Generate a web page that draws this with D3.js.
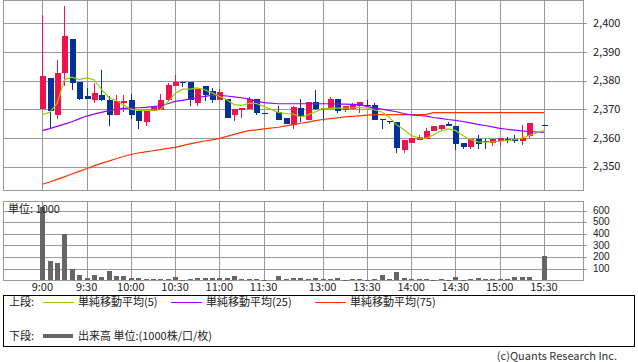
<!DOCTYPE html>
<html>
<head>
<meta charset="utf-8">
<script src="https://cdn.jsdelivr.net/npm/d3@7/dist/d3.min.js"></script>
<style>
body{margin:0;background:#fff}
svg{display:block;font-family:"Noto Sans CJK JP","Noto Sans",sans-serif}
</style>
</head>
<body>
<div id="chart"></div>
<script>
// time axis (5 min bars, index based, gaps at lunch and closing auction)
const timeLabels = ["9:00","9:30","10:00","10:30","11:00","11:30","13:00","13:30","14:00","14:30","15:00","15:30"];
const timeIdx = [0,6,12,18,24,30,38,44,50,56,62,68];

// ohlc per bar index 0..68 (null = no trade)
const opens  = [2370.1,2381.0,2367.9,2382.5,2394.5,2379.6,2374.7,2373.3,2375.1,2373.3,2367.9,2372.2,2373.3,2369.3,2365.4,2369.5,2369.8,2373.1,2378.2,2379.6,2379.6,2372.2,2378.2,2376.2,2373.1,2373.5,2367.9,2369.8,2370.2,2373.7,2368.8,null,
  2368.9,2367.0,2364.5,2370.4,2366.4,2372.4,2370.4,2370.4,2373.7,2369.8,2370.2,2371.0,2371.6,2371.6,2366.6,2365.8,2365.7,2355.9,2358.1,2359.4,2359.7,2362.3,2363.2,2364.9,2364.3,2358.3,2356.9,2359.6,2358.8,2358.3,2358.8,2359.7,2359.7,2358.8,2360.8,null,2364.6];
const highs  = [2402.9,2381.0,2387.2,2406.1,2394.5,2379.6,2377.5,2379.2,2383.8,2374.5,2374.9,2375.0,2375.4,2369.3,2369.3,2371.0,2375.4,2379.3,2382.0,2379.6,2379.6,2377.0,2378.2,2377.4,2377.0,2373.5,2370.1,2370.4,2374.1,2373.7,2368.8,null,
  2371.2,2367.0,2371.2,2373.7,2372.4,2376.6,2370.4,2374.1,2373.7,2371.0,2372.2,2372.4,2373.3,2372.0,2366.6,2365.8,2365.7,2359.1,2359.9,2361.0,2363.5,2364.3,2364.6,2365.4,2364.3,2358.3,2359.7,2361.0,2359.6,2359.7,2360.0,2360.3,2361.0,2364.6,2365.3,null,2364.6];
const lows   = [2370.1,2363.2,2366.7,2378.2,2376.8,2373.3,2373.7,2372.0,2373.0,2364.0,2367.9,2369.0,2366.7,2363.2,2364.3,2369.5,2369.8,2373.0,2378.2,2377.7,2371.2,2371.2,2373.0,2372.0,2373.1,2366.8,2365.8,2366.8,2370.2,2367.9,2368.6,null,
  2366.4,2365.0,2363.2,2365.4,2366.4,2369.8,2366.0,2370.4,2368.7,2369.0,2370.2,2368.7,2371.2,2366.4,2363.2,2365.0,2354.8,2354.8,2358.1,2359.4,2359.7,2362.3,2362.3,2364.0,2355.9,2356.2,2356.2,2356.2,2356.2,2357.3,2357.3,2358.3,2358.3,2357.4,2360.0,null,2364.6];
const closes = [2381.6,2369.3,2382.7,2395.6,2379.3,2373.7,2373.7,2375.8,2373.3,2367.9,2372.7,2372.7,2368.0,2365.8,2369.3,2370.6,2373.3,2378.5,2379.6,2379.3,2373.3,2377.0,2374.8,2373.1,2375.9,2366.8,2370.1,2370.4,2373.7,2368.7,2368.6,null,
  2366.4,2365.0,2370.6,2367.3,2372.4,2370.2,2370.1,2373.7,2369.3,2371.0,2371.6,2372.4,2371.2,2366.4,2366.4,2365.6,2356.3,2359.1,2359.9,2360.2,2362.5,2364.3,2364.6,2364.0,2358.0,2356.9,2359.7,2358.0,2358.5,2359.7,2360.0,2359.5,2358.8,2360.0,2365.3,null,2364.6];

// moving averages
const ma5  = [2368.1,2368.9,2372.0,2380.3,2381.2,2380.3,2380.9,2380.3,2377.0,2374.0,2373.1,2371.5,2370.0,2369.6,2369.6,2369.6,2369.8,2372.5,2375.5,2377.0,2377.0,2377.4,2376.8,2375.7,2374.5,2373.3,2371.6,2371.3,2372.0,2372.0,2371.0,null,
  2368.9,2368.5,2368.3,2367.3,2368.0,2369.0,2370.2,2370.3,2370.4,2370.4,2370.5,2370.6,2370.4,2369.8,2369.0,2367.3,2364.6,2362.9,2360.8,2360.0,2359.8,2361.0,2362.4,2363.1,2362.6,2360.8,2359.4,2358.6,2358.5,2358.6,2358.8,2359.1,2359.4,2359.9,2360.8,null,2362.6];
const ma25 = [2362.5,2363.2,2364.0,2364.8,2365.6,2366.6,2367.6,2368.3,2368.9,2369.5,2369.9,2370.3,2370.4,2370.5,2370.6,2370.9,2371.2,2371.9,2372.7,2373.1,2373.5,2374.0,2374.5,2374.8,2374.8,2374.6,2374.3,2374.0,2373.6,2372.8,2372.3,null,
  2371.9,2371.9,2371.9,2371.9,2371.9,2371.9,2371.9,2371.9,2371.8,2371.8,2371.7,2371.6,2371.0,2370.4,2370.0,2369.6,2369.1,2368.5,2368.0,2367.8,2367.6,2367.1,2366.8,2366.4,2366.1,2365.7,2365.2,2364.7,2364.3,2363.8,2363.3,2363.0,2362.7,2362.4,2362.2,null,2361.9];
const ma75 = [2343.8,2344.6,2345.5,2346.4,2347.4,2348.3,2349.2,2350.2,2351.1,2351.9,2352.7,2353.5,2354.2,2354.7,2355.1,2355.5,2355.9,2356.3,2356.7,2357.3,2357.9,2358.4,2358.9,2359.3,2359.8,2360.5,2361.2,2361.9,2362.5,2362.8,2363.1,null,
  2363.7,2364.2,2364.6,2365.1,2365.5,2366.0,2366.4,2366.7,2367.0,2367.3,2367.5,2367.7,2367.9,2368.1,2368.1,2368.1,2368.1,2368.1,2368.1,2368.1,2368.1,2368.8,2368.8,2368.8,2368.8,2368.8,2368.8,2368.8,2368.8,2368.8,2368.8,2368.8,2368.8,2368.8,2368.8,null,2368.8];

// volume (1000 shares)
const volumes = [630,166,149,398,97,46,20,46,29,80,37,37,20,20,11,11,11,11,29,3,11,20,20,20,20,20,37,11,11,11,2,null,
  37,11,20,20,11,20,11,11,20,3,11,11,3,11,46,11,71,20,11,11,11,3,11,3,29,3,11,20,11,11,11,11,29,29,29,null,209];

const priceTicks = [2350,2360,2370,2380,2390,2400];
const volTicks = [100,200,300,400,500,600];

const W = 638, H = 362;
const left = 3, right = 583;
const upColor = "#f0124a", downColor = "#003399", gridColor = "#999";

const x = d3.scaleLinear().domain([-5.33,73.3]).range([left,right]);
const y = d3.scaleLinear().domain([2341.8,2408.1]).range([190,0]);
const yv = d3.scaleLinear().domain([0,682]).range([280.3,201]);

const svg = d3.select("#chart").append("svg").attr("width",W).attr("height",H);
svg.append("rect").attr("width",W).attr("height",H).attr("fill","#fff");

const bars = d3.range(opens.length).filter(i=>opens[i]!==null).map(i=>({
  i, o:opens[i], h:highs[i], l:lows[i], c:closes[i], v:volumes[i]
}));

// ---- upper panel grid
const gp = svg.append("g").attr("shape-rendering","crispEdges");
gp.selectAll(".hg").data(priceTicks).join("line")
  .attr("x1",left).attr("x2",right+4)
  .attr("y1",d=>Math.round(y(d))+0.5).attr("y2",d=>Math.round(y(d))+0.5)
  .attr("stroke",gridColor);
gp.selectAll(".vg").data(timeIdx).join("line")
  .attr("x1",d=>Math.round(x(d))+0.5).attr("x2",d=>Math.round(x(d))+0.5)
  .attr("y1",0).attr("y2",190).attr("stroke",gridColor);
gp.append("rect").attr("x",left+0.5).attr("y",0.5).attr("width",right-left).attr("height",189.5)
  .attr("fill","none").attr("stroke",gridColor);

svg.append("g").selectAll("text").data(priceTicks).join("text")
  .attr("x",593).attr("y",d=>y(d)).attr("dy","0.36em")
  .attr("font-size",11).attr("fill","#222")
  .text(d=>d3.format(",")(d));

// ---- candles
const cg = svg.append("g").attr("shape-rendering","crispEdges");
cg.selectAll(".wick").data(bars).join("line")
  .attr("x1",d=>Math.round(x(d.i))+0.5).attr("x2",d=>Math.round(x(d.i))+0.5)
  .attr("y1",d=>y(d.h)).attr("y2",d=>y(d.l))
  .attr("stroke",d=>d.c>d.o?upColor:downColor);
cg.selectAll(".body").data(bars).join("rect")
  .attr("x",d=>Math.round(x(d.i))-2.5+0.5)
  .attr("y",d=>y(Math.max(d.o,d.c)))
  .attr("width",6)
  .attr("height",d=>Math.max(1,Math.abs(y(d.o)-y(d.c))))
  .attr("fill",d=>d.c>d.o?upColor:downColor);

// ---- moving averages
const maLine = d3.line().x(d=>x(d[0])).y(d=>y(d[1]));
const maDefs = [[ma75,"#ff3300"],[ma25,"#9900ff"],[ma5,"#99cc00"]];
maDefs.forEach(([arr,col])=>{
  const pts = arr.map((v,i)=>[i,v]).filter(d=>d[1]!==null);
  svg.append("path").attr("d",maLine(pts)).attr("fill","none")
    .attr("stroke",col).attr("stroke-width",1.2);
});

// ---- volume panel
const gv = svg.append("g").attr("shape-rendering","crispEdges");
gv.selectAll(".hg").data(volTicks).join("line")
  .attr("x1",left).attr("x2",right+4)
  .attr("y1",d=>Math.round(yv(d))+0.5).attr("y2",d=>Math.round(yv(d))+0.5)
  .attr("stroke",gridColor);
gv.selectAll(".vg").data(timeIdx).join("line")
  .attr("x1",d=>Math.round(x(d))+0.5).attr("x2",d=>Math.round(x(d))+0.5)
  .attr("y1",201).attr("y2",280).attr("stroke",gridColor);
gv.append("rect").attr("x",left+0.5).attr("y",201.5).attr("width",right-left).attr("height",79)
  .attr("fill","none").attr("stroke",gridColor);

gv.selectAll(".vb").data(bars).join("rect")
  .attr("x",d=>Math.round(x(d.i))-2)
  .attr("y",d=>yv(d.v))
  .attr("width",5)
  .attr("height",d=>Math.max(1,yv(0)-yv(d.v)))
  .attr("fill","#666");

svg.append("g").selectAll("text").data(volTicks).join("text")
  .attr("x",593).attr("y",d=>yv(d)).attr("dy","0.33em")
  .attr("font-family","'Liberation Sans',Arial,sans-serif")
  .attr("font-size",10).attr("fill","#222")
  .text(d=>d);

svg.append("text").attr("x",8).attr("y",209).attr("dy","0.35em")
  .attr("font-size",11).attr("fill","#222").text("単位: 1000");

svg.append("g").selectAll("text").data(timeIdx).join("text")
  .attr("x",d=>x(d)).attr("y",287).attr("dy","0.35em")
  .attr("text-anchor","middle").attr("font-size",11).attr("fill","#222")
  .text((d,k)=>timeLabels[k]);

// ---- legend
const lg = svg.append("g");
lg.append("rect").attr("x",3.5).attr("y",295.5).attr("width",631).attr("height",51)
  .attr("fill","none").attr("stroke","#000").attr("shape-rendering","crispEdges");
const legendItems = [
  {x:43,label:"単純移動平均(5)",color:"#99cc00"},
  {x:171,label:"単純移動平均(25)",color:"#9900ff"},
  {x:315,label:"単純移動平均(75)",color:"#ff3300"}
];
lg.append("text").attr("x",9).attr("y",302).attr("dy","0.35em").attr("font-size",11).attr("fill","#222").text("上段:");
lg.selectAll(".li").data(legendItems).join("line")
  .attr("x1",d=>d.x).attr("x2",d=>d.x+31).attr("y1",302.5).attr("y2",302.5)
  .attr("stroke",d=>d.color).attr("stroke-width",1);
lg.selectAll(".lt").data(legendItems).join("text")
  .attr("x",d=>d.x+35).attr("y",302).attr("dy","0.35em")
  .attr("font-size",11).attr("fill","#222").text(d=>d.label);

lg.append("text").attr("x",9).attr("y",336).attr("dy","0.35em").attr("font-size",11).attr("fill","#222").text("下段:");
lg.append("line").attr("x1",43).attr("x2",73).attr("y1",336).attr("y2",336)
  .attr("stroke","#666").attr("stroke-width",4);
lg.append("text").attr("x",78).attr("y",336).attr("dy","0.35em").attr("font-size",11).attr("fill","#222")
  .text("出来高 単位:(1000株/口/枚)");

svg.append("text").attr("x",617).attr("y",356).attr("dy","0.35em").attr("text-anchor","end")
  .attr("font-size",11).attr("fill","#333").text("(c)Quants Research Inc.");
</script>
</body>
</html>
